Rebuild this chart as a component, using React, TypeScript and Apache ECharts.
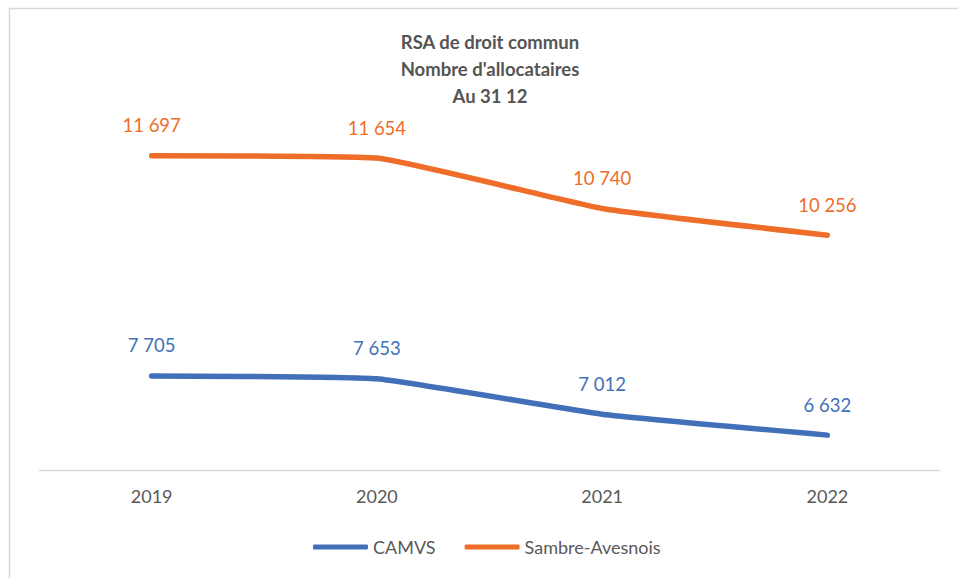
import React, { useEffect, useRef } from "react";
import * as echarts from "echarts";

const years = ["2019", "2020", "2021", "2022"];
const camvs = [7705, 7653, 7012, 6632];
const sambre = [11697, 11654, 10740, 10256];
const titleLines = ["RSA de droit commun", "Nombre d'allocataires", "Au 31 12"];

const BLUE = "#4270B8";
const ORANGE = "#EE6D28";
const FONT = "Lato, 'Open Sans', sans-serif";

const fmt = (v: number) => {
  const s = String(Math.round(v));
  return s.replace(/\B(?=(\d{3})+(?!\d))/g, " ");
};

export default function App() {
  const ref = useRef<HTMLDivElement>(null);
  useEffect(() => {
    if (!ref.current) return;
    const chart = echarts.init(ref.current, undefined, { renderer: "svg" });
    const lineSeries = (name: string, data: number[], color: string) => ({
      name,
      type: "line",
      data,
      smooth: 0.12,
      showSymbol: true,
      symbol: "circle",
      symbolSize: 0.01,
      lineStyle: { color, width: 5.5, cap: "round", join: "round" },
      itemStyle: { color },
      label: {
        show: true,
        position: "top",
        distance: 21,
        color,
        fontFamily: FONT,
        fontSize: 18.5,
        formatter: (p: any) => fmt(p.value),
      },
      labelLayout: { hideOverlap: false },
    });
    chart.setOption({
      animation: false,
      backgroundColor: "#ffffff",
      title: {
        text: titleLines.join("\n"),
        left: 485,
        top: 23,
        textAlign: "center",
        textStyle: {
          fontFamily: FONT,
          fontSize: 18.5,
          fontWeight: "bold",
          color: "#555555",
          lineHeight: 27,
        },
      },
      graphic: [
        {
          type: "rect",
          shape: { x: 9.5, y: 8.5, width: 970, height: 600 },
          style: { fill: "none", stroke: "#d9d9d9", lineWidth: 1.5 },
          silent: true,
        },
      ],
      legend: {
        bottom: 17,
        left: 308,
        itemWidth: 55,
        itemHeight: 5,
        itemGap: 29,
        icon: "roundRect",
        textStyle: { fontFamily: FONT, fontSize: 18, color: "#595959" },
        data: [
          { name: "CAMVS", itemStyle: { color: BLUE } },
          { name: "Sambre-Avesnois", itemStyle: { color: ORANGE } },
        ],
      },
      grid: { left: 39, right: 18, top: 139, height: 331 },
      xAxis: {
        type: "category",
        data: years,
        boundaryGap: true,
        axisLine: { show: true, lineStyle: { color: "#d9d9d9", width: 1.3 } },
        axisTick: { show: false },
        axisLabel: { color: "#595959", fontFamily: FONT, fontSize: 18, margin: 17 },
      },
      yAxis: {
        type: "value",
        min: 6000,
        max: 12000,
        show: false,
        splitLine: { show: false },
      },
      series: [lineSeries("CAMVS", camvs, BLUE), lineSeries("Sambre-Avesnois", sambre, ORANGE)],
    });
    return () => chart.dispose();
  }, []);
  return (
    <div
      ref={ref}
      style={{ position: "absolute", left: 0, top: 0, width: 958, height: 578 }}
    />
  );
}
